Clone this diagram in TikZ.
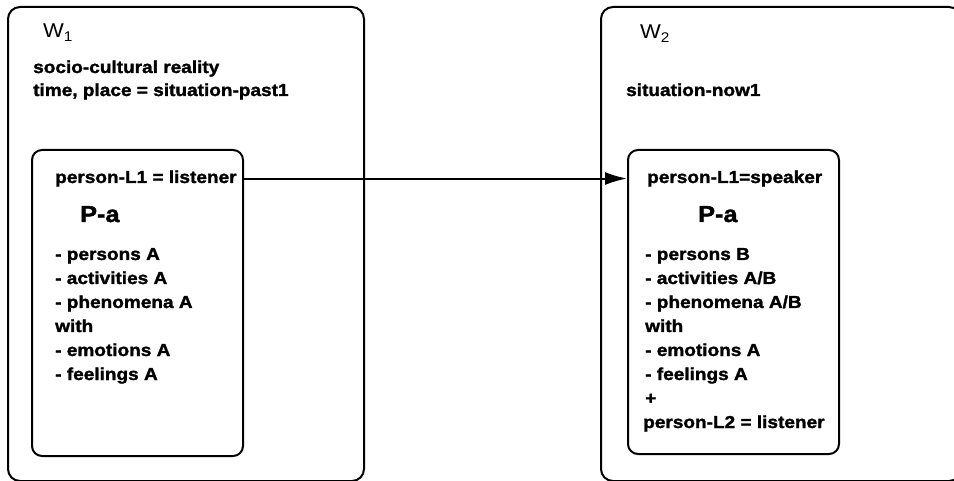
\documentclass[tikz,border=0pt]{standalone}
\usepackage{fontspec}
\usepackage{tikz}
\usetikzlibrary{calc, arrows.meta}
\newfontfamily\lblfont{Liberation Sans}[FakeStretch=1.1, BoldFeatures={FakeBold=1.6}]
\tikzstyle{world} = [rectangle, draw=black, line width=2pt, rounded corners=12pt, anchor=north west, inner sep=0pt]
\tikzstyle{pbox} = [rectangle, draw=black, line width=2pt, rounded corners=10pt, anchor=north west, inner sep=0pt]
\tikzstyle{txt} = [anchor=base west, inner sep=0pt, font=\lblfont\bfseries\fontsize{17.3}{24}\selectfont]
\tikzstyle{big} = [anchor=base west, inner sep=0pt, font=\lblfont\bfseries\fontsize{23}{28}\selectfont]
\tikzstyle{wname} = [anchor=base west, inner sep=0pt, font=\lblfont\fontsize{20}{24}\selectfont]

\begin{document}
\begin{tikzpicture}[x=1pt, y=-1pt]

        \useasboundingbox (0,0) rectangle (954,481);
        \clip (0,0) rectangle (954,481);

        % world 1
        \node (w1) [world, minimum width=356pt, minimum height=474pt] at (7,6) {};
        \node (w1name) [wname] at (43,38) {W\textsubscript{1}};
        \node (w1a) [txt] at (33,73) {socio-cultural reality};
        \node (w1b) [txt] at (33,96) {time, place = situation-past1};

        \node (in1) [pbox, minimum width=211pt, minimum height=306pt] at (31,149) {};
        \node (l1a) [txt] at (55,183) {person-L1 = listener};
        \node (pa1) [big] at (80,222) {P-a};
        \node (a1) [txt] at (55,260) {- persons A};
        \node (a2) [txt] at (55,284) {- activities A};
        \node (a3) [txt] at (55,308) {- phenomena A};
        \node (a4) [txt] at (55,332) {with};
        \node (a5) [txt] at (55,356) {- emotions A};
        \node (a6) [txt] at (55,380) {- feelings A};

        % world 2
        \node (w2) [world, minimum width=360pt, minimum height=474pt] at (600,6) {};
        \node (w2name) [wname] at (640,39) {W\textsubscript{2}};
        \node (w2a) [txt] at (626,96) {situation-now1};

        \node (in2) [pbox, minimum width=211pt, minimum height=304pt] at (627,149) {};
        \node (l1b) [txt] at (647,183) {person-L1=speaker};
        \node (pa2) [big] at (698,222) {P-a};
        \node (b1) [txt] at (645,260) {- persons B};
        \node (b2) [txt] at (645,284) {- activities A/B};
        \node (b3) [txt] at (645,308) {- phenomena A/B};
        \node (b4) [txt] at (645,332) {with};
        \node (b5) [txt] at (645,356) {- emotions A};
        \node (b6) [txt] at (645,380) {- feelings A};
        \node (b7) [txt] at (645,404) {+};
        \node (b8) [txt] at (643,428) {person-L2 = listener};

        \draw [line width=2pt, -{Latex[length=22pt, width=13pt]}] (l1a.east -| in1.east) -- (l1a.east -| in2.west);

    \end{tikzpicture}
\end{document}
